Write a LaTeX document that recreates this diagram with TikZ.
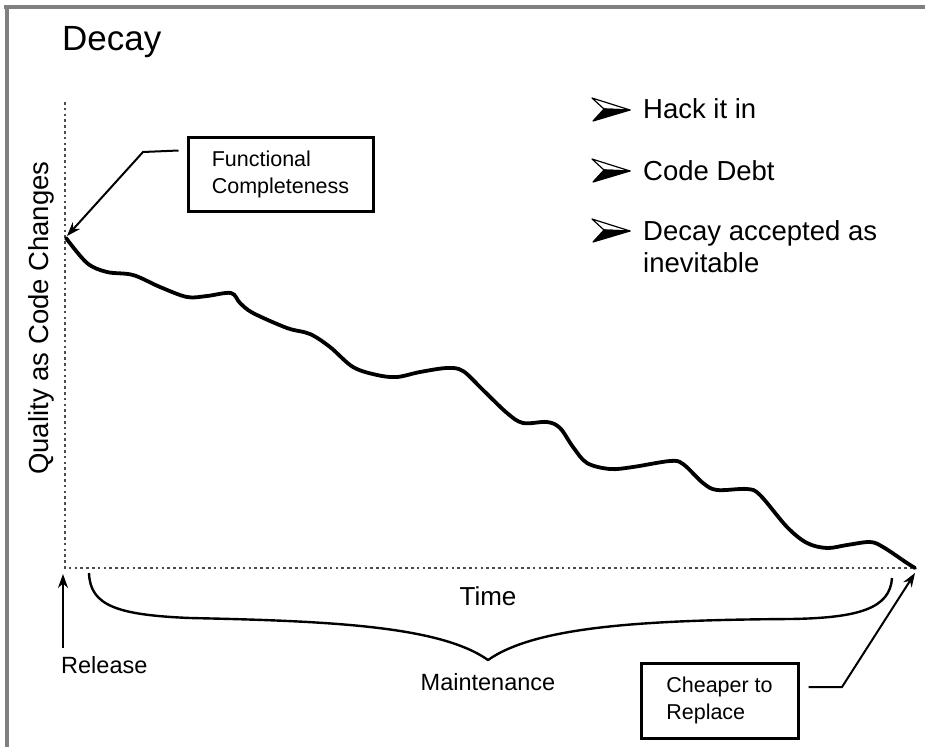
\documentclass[tikz,border=0pt]{standalone}
\usepackage{fontspec}
\setmainfont{Liberation Sans}
\usetikzlibrary{arrows.meta}
\tikzset{
  frameline/.style={draw=black!50, line width=3.2pt},
  dotax/.style={draw=black!70, line width=2.8pt, dash pattern=on 2.6pt off 3.2pt},
  decay/.style={draw=black, line width=3.8pt, line cap=round, line join=round},
  conn/.style={draw=black, line width=2pt, -{Stealth[length=14pt,width=10pt]}},
  brace/.style={draw=black, line width=2.4pt, line join=round},
  callout/.style={draw=black, line width=3pt, align=left, inner sep=0pt,
    font=\fontsize{21.5}{27}\selectfont},
  lbl/.style={inner sep=0pt},
  bul/.pic={
    \fill[black] (-18,11) -- (19,0) -- (-7,-1) -- cycle;
    \draw[black, line width=1.2pt, line join=round, fill=white] (-19,-12) -- (19,0) -- (-7,-1) -- cycle;
    \draw[black, line width=1.2pt, line join=round] (-18,11) -- (19,0) -- (-7,-1) -- cycle;
  }
}
\begin{document}
\begin{tikzpicture}[x=1pt,y=-1pt]
\useasboundingbox (0,0) rectangle (925,747);
% frame
\draw[frameline] (4,7) -- (925,7);
\draw[frameline] (7,5) -- (7,747);
% title
\node[lbl, anchor=base west, font=\fontsize{35}{42}\selectfont] (title) at (62,50) {Decay};
% axes
\coordinate (ytop) at (65,102);
\coordinate (orig) at (65,568);
\coordinate (xend) at (915,568);
\coordinate (peak) at (66,238);
\draw[dotax] (ytop) -- (orig) -- (xend);
% y label
\node[lbl, anchor=base, rotate=90, font=\fontsize{27.5}{33}\selectfont] (ylab) at (48,318) {Quality as Code Changes};
% decay curve
\draw[decay] plot[smooth, tension=0.55] coordinates {
 (66,238) (87,263) (107,272) (133,275) (160,287) (187,297) (207,296) (231,293)
 (240,303) (253,313) (287,328) (310,334) (330,347) (353,367) (377,375) (397,377)
 (420,372) (447,368) (463,371) (483,390) (507,413) (523,423) (547,422) (560,428)
 (573,447) (587,463) (610,469) (633,467) (670,461) (683,464) (703,483) (717,490)
 (747,489) (760,495) (787,527) (807,543) (827,548) (847,545) (870,542) (883,547)
 (907,563) (915,568)};
% callout boxes
\node[callout, minimum width=185pt, minimum height=74pt] (fc) at (280.5,174)
  {Functional\\ Completeness};
\node[callout, minimum width=157pt, minimum height=75pt] (cr) at (719.5,700.5)
  {Cheaper to\\ Replace};
\draw[conn] ([shift={(-8,15)}]fc.north west) -- (143,152) -- ([shift={(1,-2)}]peak);
\draw[conn] ([shift={(9,-13.5)}]cr.east) -- (842,687) -- ([shift={(0,5)}]xend);
% time axis labels
\node[lbl, anchor=base, font=\fontsize{26}{31}\selectfont] (time) at (488,605) {Time};
\draw[brace] (89,573) .. controls (90,606) and (118,615) .. (190,618)
  .. controls (330,621) and (440,626) .. (488,660)
  .. controls (535,627) and (640,620) .. (790,619)
  .. controls (860,618) and (890,608) .. (892,578);
\node[lbl, anchor=base, font=\fontsize{23.5}{28}\selectfont] (maint) at (488,690) {Maintenance};
\node[lbl, anchor=base west, font=\fontsize{23.5}{28}\selectfont] (rel) at (61,673) {Release};
\draw[conn] ([shift={(2,-8)}]rel.north west) -- ([shift={(-2,6)}]orig);
% bullets
\pic at (611,110) {bul};
\pic at (611,171) {bul};
\pic at (611,231) {bul};
\node[lbl, anchor=base west, font=\fontsize{27.5}{32}\selectfont] (b1) at (643,118) {Hack it in};
\node[lbl, anchor=base west, font=\fontsize{27.5}{32}\selectfont] (b2) at (643,180) {Code Debt};
\node[lbl, anchor=base west, font=\fontsize{27.5}{32}\selectfont] (b3) at (643,240) {Decay accepted as};
\node[lbl, anchor=base west, font=\fontsize{27.5}{32}\selectfont] (b3b) at (643,272) {inevitable};
\end{tikzpicture}
\end{document}
